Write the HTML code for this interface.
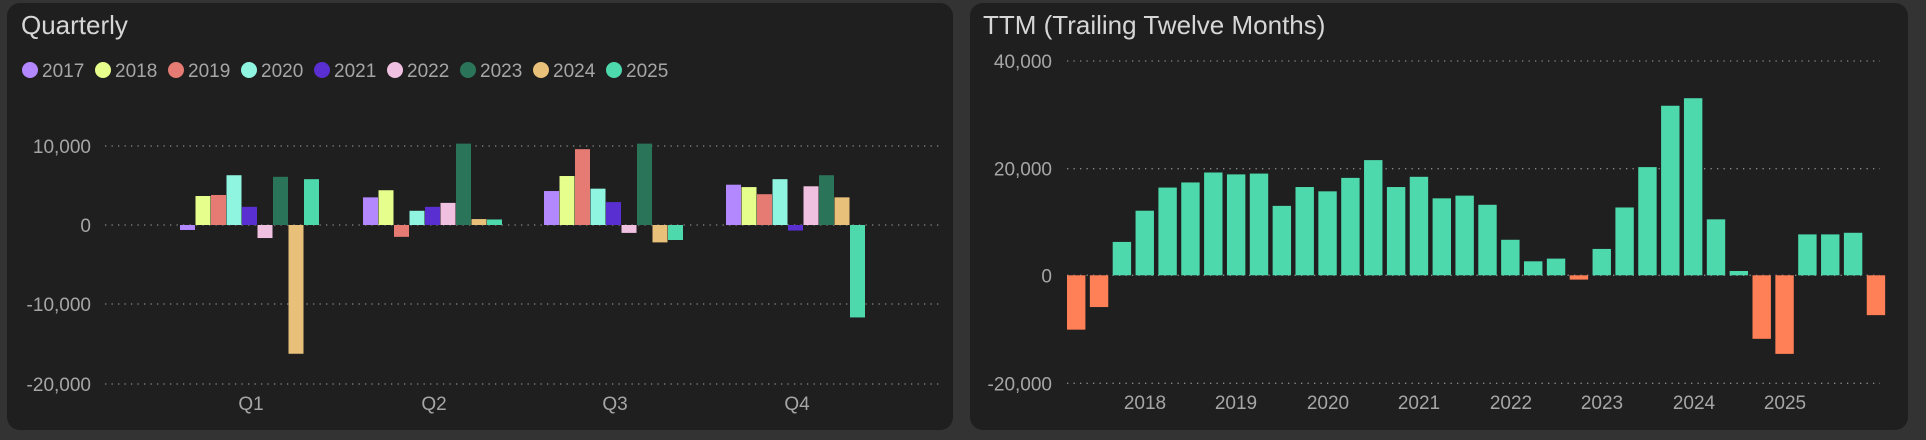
<!DOCTYPE html>
<html><head><meta charset="utf-8"><style>
html,body{margin:0;padding:0;background:#333;}
svg{display:block;font-family:"Liberation Sans",sans-serif;}
</style></head><body>
<svg id="s" width="1926" height="440" viewBox="0 0 1926 440" xmlns="http://www.w3.org/2000/svg">
<rect width="1926" height="440" fill="#333"/>
<rect x="7" y="3" width="946" height="427" rx="13" fill="#1f1f1f"/>
<rect x="970" y="3" width="938" height="427" rx="13" fill="#1f1f1f"/>
<g fill="#d6d6d6" font-size="26"><text x="21" y="34">Quarterly</text><text x="983" y="34">TTM (Trailing Twelve Months)</text></g>
<g stroke="#8a8a8a" stroke-width="1.3" stroke-dasharray="1.3 5.2">
<line x1="105" x2="940" y1="146" y2="146"/><line x1="105" x2="940" y1="225" y2="225"/><line x1="105" x2="940" y1="304" y2="304"/><line x1="105" x2="940" y1="384" y2="384"/>
<line x1="1067" x2="1880" y1="61" y2="61"/><line x1="1067" x2="1880" y1="168.7" y2="168.7"/><line x1="1067" x2="1880" y1="275.3" y2="275.3"/><line x1="1067" x2="1880" y1="383.3" y2="383.3"/>
</g>
<g fill="#a6a6a6" font-size="19" text-anchor="end">
<text x="91" y="153">10,000</text><text x="91" y="232">0</text><text x="91" y="311">-10,000</text><text x="91" y="391">-20,000</text>
<text x="1052" y="68">40,000</text><text x="1052" y="175.7">20,000</text><text x="1052" y="282.3">0</text><text x="1052" y="390.3">-20,000</text>
</g>
<g fill="#a6a6a6" font-size="19" text-anchor="middle">
<text x="251" y="410">Q1</text><text x="434" y="410">Q2</text><text x="615" y="410">Q3</text><text x="797" y="410">Q4</text>
<text x="1145" y="409">2018</text><text x="1236" y="409">2019</text><text x="1328" y="409">2020</text><text x="1419" y="409">2021</text><text x="1511" y="409">2022</text><text x="1602" y="409">2023</text><text x="1694" y="409">2024</text><text x="1785" y="409">2025</text>
</g>
<g fill="#a6a6a6" font-size="19">
<circle cx="30" cy="70" r="8" fill="#b388ff"/><text x="42" y="77">2017</text>
<circle cx="103" cy="70" r="8" fill="#e6ff8c"/><text x="115" y="77">2018</text>
<circle cx="176" cy="70" r="8" fill="#e57b73"/><text x="188" y="77">2019</text>
<circle cx="249" cy="70" r="8" fill="#8ff5e0"/><text x="261" y="77">2020</text>
<circle cx="322" cy="70" r="8" fill="#5a2fd1"/><text x="334" y="77">2021</text>
<circle cx="395" cy="70" r="8" fill="#f0c0e0"/><text x="407" y="77">2022</text>
<circle cx="468" cy="70" r="8" fill="#2a7559"/><text x="480" y="77">2023</text>
<circle cx="541" cy="70" r="8" fill="#e9c07a"/><text x="553" y="77">2024</text>
<circle cx="614" cy="70" r="8" fill="#4dd9ac"/><text x="626" y="77">2025</text>
</g>
<g id="bars"></g>
</svg>
<script>
var g=document.getElementById('bars'),ns='http://www.w3.org/2000/svg';
function r(x,y,w,h,c){var e=document.createElementNS(ns,'rect');e.setAttribute('x',x);e.setAttribute('y',y);e.setAttribute('width',w);e.setAttribute('height',Math.max(h,0.5));e.setAttribute('fill',c);g.appendChild(e);}
var cols=['#b388ff','#e6ff8c','#e57b73','#8ff5e0','#5a2fd1','#f0c0e0','#2a7559','#e9c07a','#4dd9ac'];
var q=[[-0.63,3.67,3.8,6.3,2.3,-1.65,6.1,-16.3,5.8],[3.5,4.4,-1.5,1.8,2.3,2.8,10.3,0.75,0.7],[4.3,6.2,9.6,4.6,2.9,-1.0,10.3,-2.2,-1.9],[5.1,4.8,3.9,5.8,-0.7,4.9,6.3,3.5,-11.7]];
var cx=[251,434,615,797];
for(var i=0;i<4;i++)for(var j=0;j<9;j++){var v=q[i][j]*7.9,x=cx[i]-71+15.5*j;if(v>=0)r(x,225-v,15,v,cols[j]);else r(x,225,15,-v,cols[j]);}
var t=[-10.1,-5.9,6.2,12.0,16.3,17.25,19.1,18.75,18.9,12.9,16.4,15.6,18.1,21.4,16.4,18.3,14.3,14.8,13.1,6.6,2.6,3.1,-0.8,4.9,12.6,20.1,31.5,32.9,10.4,0.8,-11.8,-14.6,7.6,7.6,7.9,-7.4];
for(var k=0;k<t.length;k++){var v=t[k]*5.3825,x=1067+22.85*k;if(v>=0)r(x,275.3-v,18.4,v,'#4dd9ac');else r(x,275.3,18.4,-v,'#ff7f57');}
</script>
</body></html>
